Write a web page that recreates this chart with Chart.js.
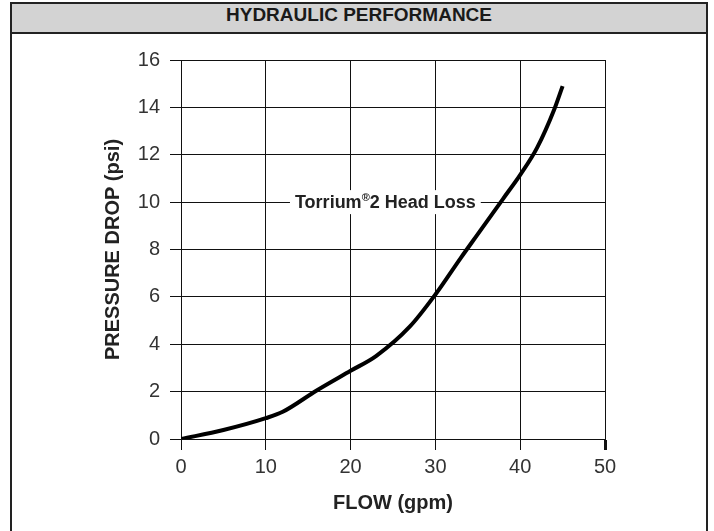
<!DOCTYPE html>
<html>
<head>
<meta charset="utf-8">
<title>Hydraulic Performance</title>
<script src="https://cdn.jsdelivr.net/npm/chart.js@4"></script>
<style>
    html, body { margin: 0; padding: 0; background: #fff; overflow: hidden; }
    #frame {
        position: absolute; left: 10px; top: 2px; width: 698px; height: 560px;
        box-sizing: border-box; border: 2px solid #222; border-bottom: none;
    }
    #header {
        height: 28px; line-height: 29px; background: #d3d3d3; border-bottom: 2px solid #222;
        text-align: center; font: bold 19px "Liberation Sans", Arial, sans-serif; color: #1a1a1a;
    }
    #chart { position: absolute; left: 0; top: 0; }
</style>
</head>
<body>
<div id="frame"><div id="header">HYDRAULIC PERFORMANCE</div></div>
<canvas id="chart" width="714" height="531"></canvas>
<script>
// Data
const flow = [0, 5, 10, 12, 16, 20, 23, 27, 30, 33, 35, 38, 40, 42, 44, 45];
const pressureDrop = [0, 0.38, 0.88, 1.15, 2.05, 2.88, 3.5, 4.75, 6.1, 7.65, 8.65, 10.15, 11.15, 12.3, 13.9, 14.9];
const flowTicks = [0, 10, 20, 30, 40, 50];
const pressureTicks = [0, 2, 4, 6, 8, 10, 12, 14, 16];
const seriesLabel = ['Torrium', '\u00AE', '2 Head Loss'];
const labelAt = [24.1, 10];

const fontFamily = '"Liberation Sans", Arial, sans-serif';

// White-backed curve label sitting on the 10 psi gridline
const headLossLabel = {
    id: 'headLossLabel',
    beforeDatasetsDraw(chart) {
        const { ctx, scales: { x, y } } = chart;
        const cx = x.getPixelForValue(labelAt[0]);
        const cy = y.getPixelForValue(labelAt[1]);
        const mainFont = 'bold 18px ' + fontFamily;
        const supFont = 'bold 11px ' + fontFamily;
        ctx.save();
        ctx.font = mainFont;
        const w1 = ctx.measureText(seriesLabel[0]).width;
        const w3 = ctx.measureText(seriesLabel[2]).width;
        ctx.font = supFont;
        const w2 = ctx.measureText(seriesLabel[1]).width;
        const total = w1 + w2 + w3;
        let left = cx - total / 2;
        ctx.fillStyle = '#fff';
        ctx.fillRect(left - 5, cy - 12, total + 10, 24);
        ctx.fillStyle = '#222';
        ctx.textBaseline = 'middle';
        ctx.textAlign = 'left';
        ctx.font = mainFont;
        ctx.fillText(seriesLabel[0], left, cy + 1);
        ctx.font = supFont;
        ctx.fillText(seriesLabel[1], left + w1, cy - 4);
        ctx.font = mainFont;
        ctx.fillText(seriesLabel[2], left + w1 + w2, cy + 1);
        ctx.restore();
    }
};

new Chart(document.getElementById('chart'), {
    type: 'scatter',
    data: {
        datasets: [{
            label: seriesLabel.join(''),
            data: flow.map((f, i) => ({ x: f, y: pressureDrop[i] })),
            showLine: true,
            borderColor: '#000',
            borderWidth: 4,
            pointRadius: 0,
            cubicInterpolationMode: 'monotone',
            fill: false
        }]
    },
    options: {
        responsive: false,
        devicePixelRatio: 1,
        animation: false,
        layout: { padding: { left: 0, right: 109, top: 60, bottom: 0 } },
        plugins: {
            legend: { display: false },
            tooltip: { enabled: false }
        },
        scales: {
            x: {
                type: 'linear',
                min: 0,
                max: 50,
                afterBuildTicks: (scale) => { scale.ticks = flowTicks.map(v => ({ value: v })); },
                afterFit: (scale) => { scale.height = 92; },
                grid: {
                    color: '#111',
                    lineWidth: 1,
                    tickLength: 11,
                    tickColor: '#111',
                    tickWidth: (c) => c.tick && c.tick.value === 50 ? 3 : 1
                },
                border: { color: '#111', width: 1 },
                ticks: {
                    color: '#333',
                    padding: 5,
                    maxRotation: 0,
                    font: { family: fontFamily, size: 20 }
                },
                title: {
                    display: true,
                    text: 'FLOW (gpm)',
                    color: '#222',
                    padding: { top: 0, bottom: 16 },
                    font: { family: fontFamily, size: 20, weight: 'bold' }
                }
            },
            y: {
                type: 'linear',
                min: 0,
                max: 16,
                afterBuildTicks: (scale) => { scale.ticks = pressureTicks.map(v => ({ value: v })); },
                afterFit: (scale) => { scale.width = 181; },
                grid: {
                    color: '#111',
                    lineWidth: 1,
                    tickLength: 11,
                    tickColor: '#111'
                },
                border: { color: '#111', width: 1 },
                ticks: {
                    color: '#333',
                    padding: 10,
                    font: { family: fontFamily, size: 20 }
                },
                title: {
                    display: true,
                    text: 'PRESSURE DROP (psi)',
                    color: '#222',
                    padding: { top: 101, bottom: 0 },
                    font: { family: fontFamily, size: 20, weight: 'bold' }
                }
            }
        }
    },
    plugins: [headLossLabel]
});
</script>
</body>
</html>
